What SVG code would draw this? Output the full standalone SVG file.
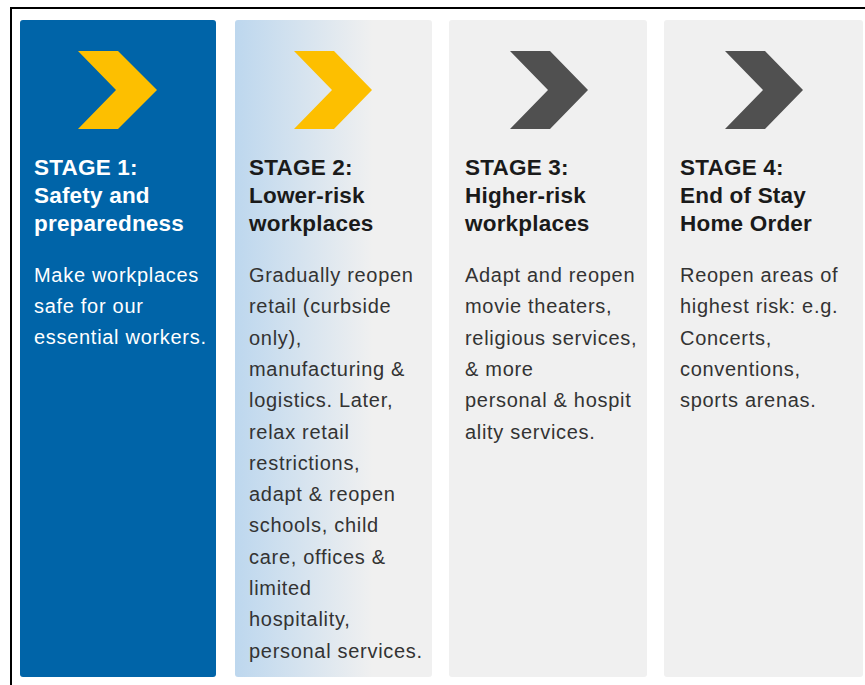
<svg xmlns="http://www.w3.org/2000/svg" width="865" height="685" viewBox="0 0 865 685">
<defs>
<linearGradient id="g2" x1="0" y1="0" x2="1" y2="0">
<stop offset="0" stop-color="#bdd7ee"/>
<stop offset="0.7" stop-color="#f0f0f0"/>
<stop offset="1" stop-color="#f0f0f0"/>
</linearGradient>
<style>
.card{stroke:none}
.title{font-family:"Liberation Sans",Arial,sans-serif;font-weight:bold;font-size:22.5px;letter-spacing:0.2px}
.body{font-family:"Liberation Sans",Arial,sans-serif;font-size:20px;letter-spacing:0.7px}
.dk{fill:#1a1a1a}
.bd{fill:#333333}
.wh{fill:#ffffff}
</style>
</defs>
<rect x="0" y="0" width="865" height="685" fill="#ffffff"/>
<rect x="11" y="8" width="870" height="700" fill="none" stroke="#000000" stroke-width="2"/>
<g id="stage1">
<rect class="card" x="20" y="20" width="196" height="657" rx="3" fill="#0064a8"/>
<polygon points="78,51 118,51 157,90 118,129 78,129 116,90" fill="#fdbf00"/>
<text class="title wh" x="34"><tspan x="34" y="175">STAGE 1:</tspan><tspan x="34" y="203">Safety and</tspan><tspan x="34" y="231">preparedness</tspan></text>
<text class="body wh"><tspan x="34" y="282">Make workplaces</tspan><tspan x="34" y="313">safe for our</tspan><tspan x="34" y="344">essential workers.</tspan></text>
</g>
<g id="stage2">
<rect class="card" x="235" y="20" width="197" height="657" rx="3" fill="url(#g2)"/>
<polygon points="294,51 334,51 372,90 334,129 294,129 332,90" fill="#fdbf00"/>
<text class="title dk"><tspan x="249" y="175">STAGE 2:</tspan><tspan x="249" y="203">Lower-risk</tspan><tspan x="249" y="231">workplaces</tspan></text>
<text class="body bd"><tspan x="249" y="282">Gradually reopen</tspan><tspan x="249" y="313.3">retail (curbside</tspan><tspan x="249" y="344.6">only),</tspan><tspan x="249" y="375.9">manufacturing &amp;</tspan><tspan x="249" y="407.2">logistics. Later,</tspan><tspan x="249" y="438.5">relax retail</tspan><tspan x="249" y="469.8">restrictions,</tspan><tspan x="249" y="501.1">adapt &amp; reopen</tspan><tspan x="249" y="532.4">schools, child</tspan><tspan x="249" y="563.7">care, offices &amp;</tspan><tspan x="249" y="595">limited</tspan><tspan x="249" y="626.3">hospitality,</tspan><tspan x="249" y="657.6">personal services.</tspan></text>
</g>
<g id="stage3">
<rect class="card" x="449" y="20" width="198" height="657" rx="3" fill="#f0f0f0"/>
<polygon points="510,51 550,51 588,90 550,129 510,129 548,90" fill="#505050"/>
<text class="title dk"><tspan x="465" y="175">STAGE 3:</tspan><tspan x="465" y="203">Higher-risk</tspan><tspan x="465" y="231">workplaces</tspan></text>
<text class="body bd"><tspan x="465" y="282">Adapt and reopen</tspan><tspan x="465" y="313.3">movie theaters,</tspan><tspan x="465" y="344.6">religious services,</tspan><tspan x="465" y="375.9">&amp; more</tspan><tspan x="465" y="407.2">personal &amp; hospit</tspan><tspan x="465" y="438.5">ality services.</tspan></text>
</g>
<g id="stage4">
<rect class="card" x="664" y="20" width="199" height="657" rx="3" fill="#f0f0f0"/>
<polygon points="725,51 765,51 803,90 765,129 725,129 763,90" fill="#505050"/>
<text class="title dk"><tspan x="680" y="175">STAGE 4:</tspan><tspan x="680" y="203">End of Stay</tspan><tspan x="680" y="231">Home Order</tspan></text>
<text class="body bd"><tspan x="680" y="282">Reopen areas of</tspan><tspan x="680" y="313.3">highest risk: e.g.</tspan><tspan x="680" y="344.6">Concerts,</tspan><tspan x="680" y="375.9">conventions,</tspan><tspan x="680" y="407.2">sports arenas.</tspan></text>
</g>
<g id="connectors"/>
</svg>
